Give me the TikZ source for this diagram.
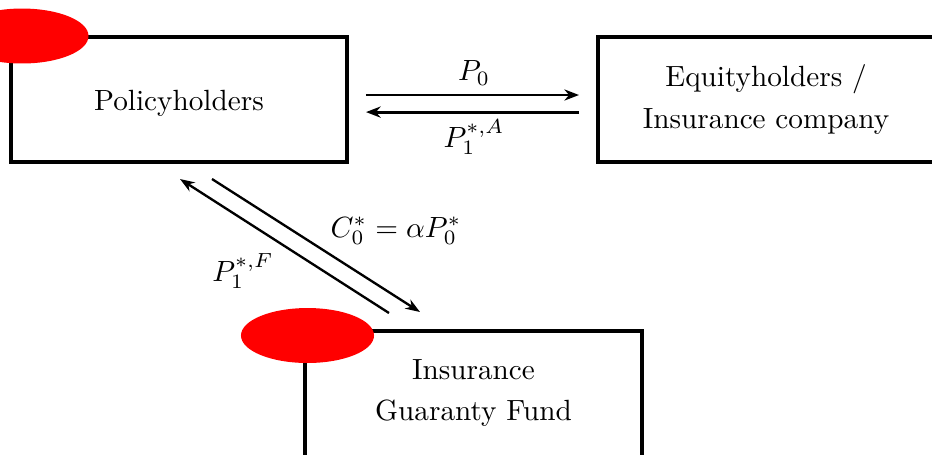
\documentclass[tikz,border=0pt]{standalone}
\usetikzlibrary{arrows.meta,shapes.geometric}
\begin{document}
\begin{tikzpicture}[x=0.342pt,y=-0.342pt,
  box/.style={draw=black,line width=1.3pt,rectangle,minimum width=115pt,minimum height=42.7pt,align=center,font=\fontsize{10}{14}\selectfont,inner sep=0pt},
  boxtext/.style={inner sep=0pt,align=center,font=\fontsize{10}{14}\selectfont},
  blob/.style={ellipse,fill=red,draw=none,minimum width=45.5pt,minimum height=18.8pt,inner sep=0pt},
  harr/.style={line width=1pt,-{Stealth[length=5pt,width=3.8pt,inset=1.6pt]}},
  darr/.style={line width=0.8pt,-{Stealth[length=5pt,width=3.6pt,inset=1.6pt]}},
  lbl/.style={inner sep=0pt,font=\fontsize{10}{12}\selectfont}]
\useasboundingbox (0,0) rectangle (932,454);
\begin{scope}
\clip (0,0) rectangle (932,454);
\node[box] (ph) at (179,99.5) {};
\node[boxtext] (pht) at (179,103) {Policyholders};
\node[box] (eq) at (766,99.5) {Equityholders /\\[0.6pt]Insurance company};
\node[box,minimum height=47pt] (gf) at (473.5,400) {};
\node[boxtext] (gft) at (473.5,393) {Insurance\\[0.3pt]Guaranty Fund};
\node[blob] (r1) at (22,36) {};
\node[blob] (r2) at (307.5,335.5) {};
\end{scope}
\draw[harr,shorten <=5.8pt,shorten >=5.8pt] ([yshift=1.54pt]ph.east) -- ([yshift=1.54pt]eq.west);
\draw[harr,shorten <=5.8pt,shorten >=5.8pt] ([yshift=-4.3pt]eq.west) -- ([yshift=-4.3pt]ph.east);
\coordinate (d1s) at (389,313);
\coordinate (d1e) at (180,179);
\coordinate (d2s) at (212,179);
\coordinate (d2e) at (420,312);
\draw[darr] (d1s) -- (d1e);
\draw[darr] (d2s) -- (d2e);
\node[lbl] (l1) at (474,73) {$P_0$};
\node[lbl] (l2) at (474,137) {$P_1^{*,A}$};
\node[lbl] (l3) at (396,231) {$C_0^* = \alpha P_0^*$};
\node[lbl] (l4) at (243,271) {$P_1^{*,F}$};
\end{tikzpicture}
\end{document}
